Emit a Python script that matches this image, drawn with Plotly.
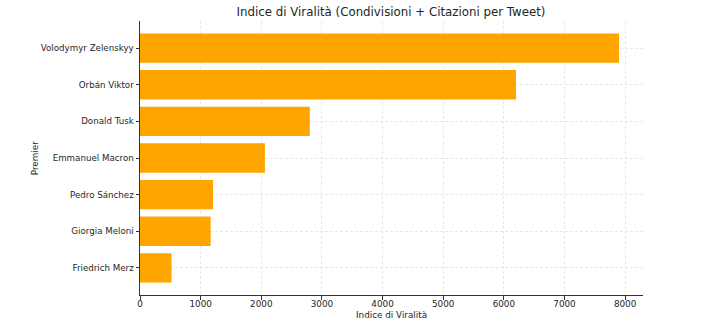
import plotly.graph_objects as go

premiers = ["Volodymyr Zelenskyy", "Orbán Viktor", "Donald Tusk", "Emmanuel Macron",
            "Pedro Sánchez", "Giorgia Meloni", "Friedrich Merz"]
virality = [7900, 6200, 2800, 2060, 1205, 1165, 520]
x_ticks = [0, 1000, 2000, 3000, 4000, 5000, 6000, 7000, 8000]

font_family = "DejaVu Sans"
text_color = "#262626"

fig = go.Figure(go.Bar(
    y=premiers, x=virality, orientation="h",
    marker=dict(color="#FFA500", line=dict(width=0)),
    width=0.8,
))

L, R, T, B = 139.5, 643.5, 21, 295
W, H = 718, 323

fig.update_layout(
    width=W, height=H,
    margin=dict(l=L, r=W - R, t=T, b=H - B, pad=0),
    paper_bgcolor="white", plot_bgcolor="white",
    font=dict(family=font_family, color=text_color, size=8.7),
    showlegend=False,
    bargap=0.2,
    title=dict(text="Indice di Viralità (Condivisioni + Citazioni per Tweet)",
               x=391 / W, xanchor="center", y=1 - 12 / H, yanchor="middle",
               font=dict(size=11.8, color=text_color, family=font_family)),
    xaxis=dict(
        range=[0, 8295], tickvals=x_ticks, ticktext=[str(v) for v in x_ticks],
        showgrid=True, gridcolor="#e8e8e8", griddash="3px,2px", gridwidth=0.8,
        showline=True, linecolor="#333333", linewidth=1,
        ticks="outside", ticklen=3.5, tickcolor="#333333", tickwidth=0.8,
        zeroline=False, tickfont=dict(size=8.8), ticklabelstandoff=-3,
    ),
    yaxis=dict(
        categoryorder="array", categoryarray=premiers[::-1],
        range=[-0.74, 6.74],
        showgrid=True, gridcolor="#e8e8e8", griddash="3px,2px", gridwidth=0.8,
        showline=True, linecolor="#333333", linewidth=1,
        ticks="outside", ticklen=3.5, tickcolor="#333333", tickwidth=0.8,
        zeroline=False, tickfont=dict(size=8.7), ticklabelstandoff=0,
    ),
    annotations=[
        dict(text="Indice di Viralità", xref="paper", yref="paper",
             x=0.5, y=(B - 314.5) / (B - T), xanchor="center", yanchor="middle",
             showarrow=False, font=dict(size=8.8, color=text_color)),
        dict(text="Premier", xref="paper", yref="paper",
             x=(34.5 - L) / (R - L), y=0.5, xanchor="center", yanchor="middle",
             textangle=-90, showarrow=False, font=dict(size=8.8, color=text_color)),
    ],
)

fig.write_html("out.html")
